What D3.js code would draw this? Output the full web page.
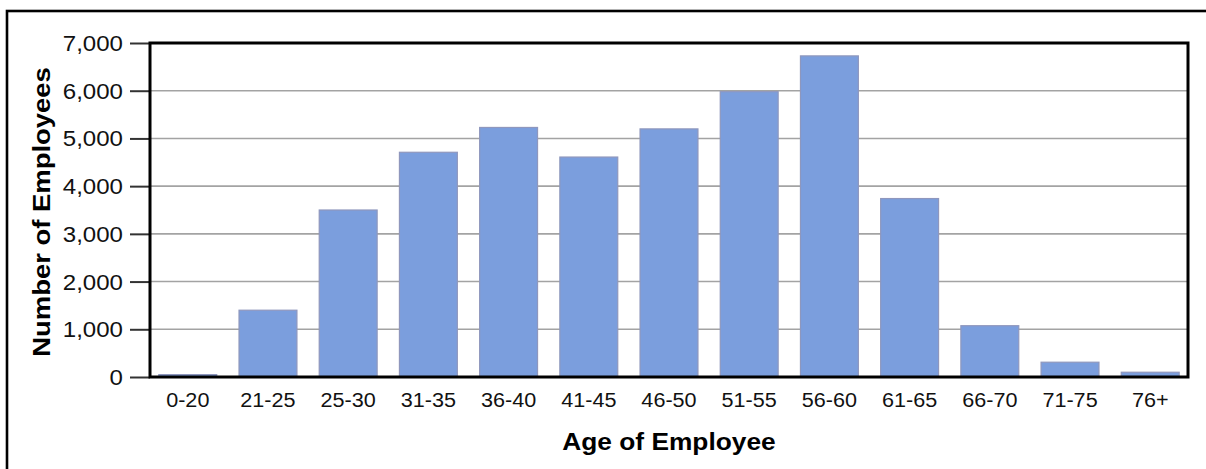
<!DOCTYPE html>
<html>
<head>
<meta charset="utf-8">
<script src="https://cdn.jsdelivr.net/npm/d3@7"></script>
<style>
  html, body { margin: 0; padding: 0; background: #fff; }
  svg { display: block; }
  text { font-family: "Liberation Sans", Arial, Helvetica, sans-serif; fill: #111; }
</style>
</head>
<body>
<svg id="chart" width="1206" height="469"></svg>
<script>
const categories = ["0-20","21-25","25-30","31-35","36-40","41-45","46-50","51-55","56-60","61-65","66-70","71-75","76+"];
const employees = [50, 1400, 3500, 4710, 5230, 4610, 5200, 5980, 6730, 3740, 1075, 310, 100];
const yTicks = [0, 1000, 2000, 3000, 4000, 5000, 6000, 7000];
const xTitle = "Age of Employee";
const yTitle = "Number of Employees";

const W = 1206, H = 469;
const plot = { left: 150, top: 43, right: 1188, bottom: 377 };
const stretch = 1.12;

const svg = d3.select("#chart");
svg.append("rect").attr("width", W).attr("height", H).attr("fill", "#fff");

// outer frame
svg.append("rect")
  .attr("x", 7).attr("y", 11).attr("width", 1220).attr("height", 480)
  .attr("fill", "none").attr("stroke", "#000").attr("stroke-width", 2.6);

const x = d3.scaleBand().domain(categories)
  .range([plot.left, plot.right]).paddingInner(0.278).paddingOuter(0.11);
const y = d3.scaleLinear().domain([0, 7000]).range([plot.bottom, plot.top]);

// gridlines
svg.append("g").selectAll("line").data(yTicks.filter(d => d > 0 && d < 7000)).join("line")
  .attr("x1", plot.left).attr("x2", plot.right)
  .attr("y1", d => y(d)).attr("y2", d => y(d))
  .attr("stroke", "#a3a3a3").attr("stroke-width", 1.6);

// bars
svg.append("g").selectAll("rect").data(employees).join("rect")
  .attr("x", (d, i) => x(categories[i]))
  .attr("y", d => y(d))
  .attr("width", x.bandwidth())
  .attr("height", d => y(0) - y(d))
  .attr("fill", "#7b9edd")
  .attr("stroke", "#8f97bd")
  .attr("stroke-width", 1.2);

// y axis
const yAxis = svg.append("g").attr("transform", `translate(${plot.left},0)`)
  .call(d3.axisLeft(y).tickValues(yTicks).tickSize(20).tickPadding(0)
    .tickFormat(d3.format(",")));
yAxis.select(".domain").remove();
yAxis.selectAll(".tick line").attr("stroke", "#333").attr("stroke-width", 2);
yAxis.selectAll(".tick text")
  .attr("x", -27 / stretch)
  .attr("dy", "0.35em")
  .attr("transform", `scale(${stretch},1)`)
  .style("font-size", "21.5px").style("fill", "#111");

// x axis
const xAxis = svg.append("g").attr("transform", `translate(0,${plot.bottom})`)
  .call(d3.axisBottom(x).tickSize(0).tickPadding(0));
xAxis.select(".domain").remove();
xAxis.selectAll(".tick text")
  .attr("y", 30.5).attr("dy", 0)
  .attr("transform", `scale(${stretch},1)`)
  .style("font-size", "19.3px").style("fill", "#111");

// plot frame
svg.append("rect")
  .attr("x", plot.left).attr("y", plot.top)
  .attr("width", plot.right - plot.left).attr("height", plot.bottom - plot.top)
  .attr("fill", "none").attr("stroke", "#000").attr("stroke-width", 3);

// titles
svg.append("text")
  .attr("transform", `translate(${(plot.left + plot.right) / 2},450) scale(${stretch},1)`)
  .attr("text-anchor", "middle")
  .style("font-size", "23.5px").style("font-weight", "bold").style("fill", "#000")
  .text(xTitle);

svg.append("text")
  .attr("transform", `translate(50,${(plot.top + plot.bottom) / 2 + 2}) rotate(-90) scale(${stretch},1)`)
  .attr("text-anchor", "middle")
  .style("font-size", "24.5px").style("font-weight", "bold").style("fill", "#000")
  .text(yTitle);
</script>
</body>
</html>
